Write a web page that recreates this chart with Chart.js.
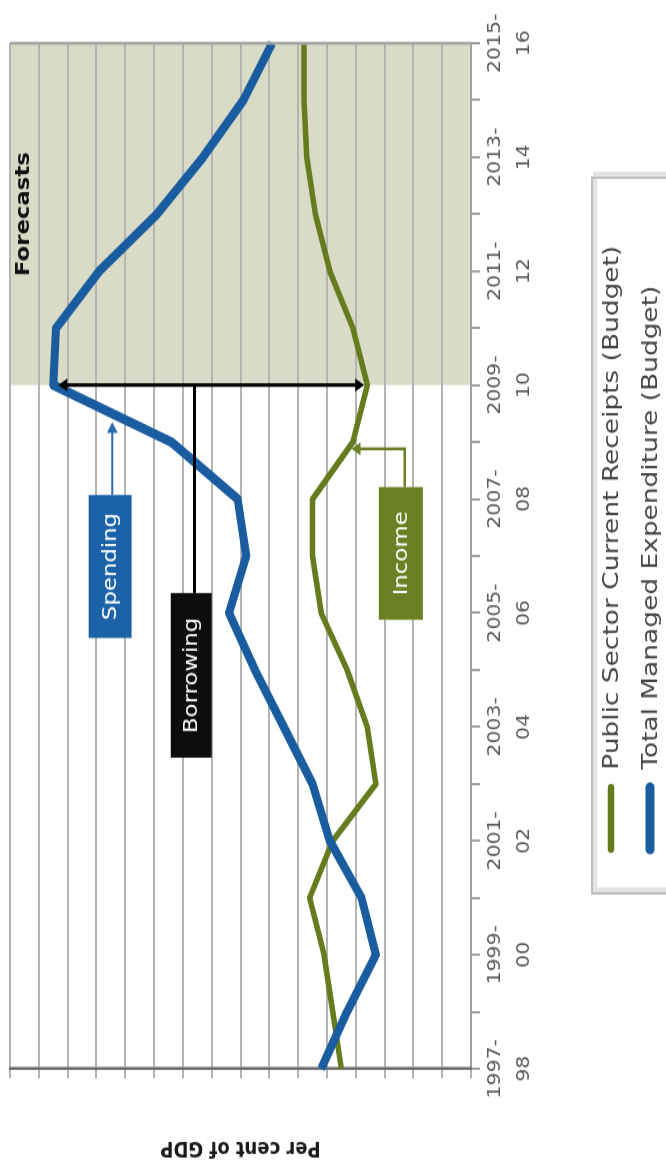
<!DOCTYPE html>
<html lang="en">
<head>
<meta charset="UTF-8">
<title>Spending, income and borrowing</title>
<script src="https://cdn.jsdelivr.net/npm/chart.js"></script>
<style>
  html, body { margin: 0; padding: 0; background: #fff; overflow: hidden; }
  body { width: 666px; height: 1172px; position: relative; }
  /* the chart is drawn upright, then turned on its side like the original */
  #wrap {
    position: absolute; left: 0; top: 0;
    width: 976px; height: 666px;
    transform-origin: 0 0;
    transform: translateY(1172px) rotate(-90deg) scaleX(1.2008);
  }
</style>
</head>
<body>
<div id="wrap"><canvas id="budgetChart"></canvas></div>

<script>
const years = ['1997-98', '1998-99', '1999-00', '2000-01', '2001-02', '2002-03', '2003-04',
               '2004-05', '2005-06', '2006-07', '2007-08', '2008-09', '2009-10', '2010-11',
               '2011-12', '2012-13', '2013-14', '2014-15', '2015-16'];
const receipts = [37.5, 37.8, 38.1, 38.6, 37.8, 36.3, 36.6, 37.3, 38.2, 38.5,
                  38.5, 37.1, 36.6, 37.1, 37.9, 38.4, 38.7, 38.8, 38.8];
const expenditure = [38.2, 37.3, 36.3, 36.8, 37.9, 38.5, 39.5, 40.5, 41.4, 40.8,
                     41.1, 43.4, 47.5, 47.4, 45.9, 43.9, 42.3, 40.9, 39.9];
const seriesNames = ['Public Sector Current Receipts (Budget)', 'Total Managed Expenditure (Budget)'];
const forecastFrom = '2009-10';
const yMin = 33, yMax = 49;

const FONT = '"DejaVu Sans", sans-serif';
const GREEN = '#667b1d';
const BLUE = '#195c9f';

function arrowHead(ctx, x, y, angle, size) {
    ctx.save();
    ctx.translate(x, y);
    ctx.rotate(angle);
    ctx.beginPath();
    ctx.moveTo(0, 0);
    ctx.lineTo(-size, -size * 0.6);
    ctx.lineTo(-size, size * 0.6);
    ctx.closePath();
    ctx.fill();
    ctx.restore();
}

function labelBox(ctx, px, py, b) {
    const l = px(b.from), r = px(b.to), t = py(b.top), btm = py(b.bottom);
    ctx.fillStyle = b.color;
    ctx.fillRect(l, t, r - l, btm - t);
    ctx.fillStyle = '#fff';
    ctx.font = '19px ' + FONT;
    ctx.textAlign = 'center';
    ctx.textBaseline = 'middle';
    ctx.fillText(b.text, (l + r) / 2, (t + btm) / 2 + 1);
}

const annotate = {
    id: 'annotate',
    beforeDraw(chart) {
        const {ctx, chartArea: a, scales: {x}} = chart;
        const x0 = x.getPixelForValue(years.indexOf(forecastFrom));
        ctx.save();
        ctx.fillStyle = '#d9dbc7';
        ctx.fillRect(x0, a.top, a.right - x0, a.bottom - a.top);
        ctx.restore();
    },
    afterDatasetsDraw(chart) {
        const {ctx, chartArea: a, scales: {x, y}} = chart;
        const px = v => x.getPixelForValue(v);
        const py = v => y.getPixelForValue(v);
        const f = years.indexOf(forecastFrom);
        ctx.save();

        // right border of the plot
        ctx.strokeStyle = '#a3a3a3';
        ctx.lineWidth = 2.5;
        ctx.beginPath();
        ctx.moveTo(a.right, a.top);
        ctx.lineTo(a.right, a.bottom);
        ctx.stroke();

        ctx.fillStyle = '#111';
        ctx.font = 'bold 19px ' + FONT;
        ctx.textAlign = 'center';
        ctx.textBaseline = 'middle';
        ctx.fillText('Forecasts', px((f + years.length - 1) / 2), py(48.5));

        // borrowing: gap between spending and income in 2009-10
        const top = py(expenditure[f]) + 5, bottom = py(receipts[f]) - 3;
        ctx.strokeStyle = '#000';
        ctx.fillStyle = '#000';
        ctx.lineWidth = 3;
        ctx.beginPath();
        ctx.moveTo(px(f), top + 6);
        ctx.lineTo(px(f), bottom - 6);
        ctx.moveTo(px(8.35), py(42.6));
        ctx.lineTo(px(f), py(42.6));
        ctx.stroke();
        arrowHead(ctx, px(f), top, -Math.PI / 2, 9);
        arrowHead(ctx, px(f), bottom, Math.PI / 2, 9);

        // spending pointer
        ctx.strokeStyle = '#2a6bb0';
        ctx.fillStyle = '#2a6bb0';
        ctx.lineWidth = 2;
        ctx.beginPath();
        ctx.moveTo(px(10.07), py(45.45));
        ctx.lineTo(px(11.25), py(45.45));
        ctx.stroke();
        arrowHead(ctx, px(11.35), py(45.45), 0, 9);

        // income pointer
        ctx.strokeStyle = '#6b8023';
        ctx.fillStyle = '#6b8023';
        ctx.lineWidth = 2.5;
        ctx.beginPath();
        ctx.moveTo(px(10.21), py(35.3));
        ctx.lineTo(px(10.88), py(35.3));
        ctx.lineTo(px(10.88), py(36.9));
        ctx.stroke();
        arrowHead(ctx, px(10.88), py(37.15), -Math.PI / 2, 9);

        labelBox(ctx, px, py, {text: 'Spending', color: '#1c62a8', from: 7.56, to: 10.07, top: 46.27, bottom: 44.78});
        labelBox(ctx, px, py, {text: 'Borrowing', color: '#0d0d0d', from: 5.46, to: 8.35, top: 43.42, bottom: 42.0});
        labelBox(ctx, px, py, {text: 'Income', color: '#6b8023', from: 7.88, to: 10.21, top: 36.2, bottom: 34.67});
        ctx.restore();
    },
    afterDraw(chart) {
        // legend box below the chart, one row per series
        const {ctx} = chart;
        ctx.save();
        ctx.strokeStyle = '#e3e3e3';
        ctx.lineWidth = 4;
        ctx.strokeRect(235, 595, 596, 120);
        ctx.strokeStyle = '#bdbdbd';
        ctx.lineWidth = 2;
        ctx.strokeRect(232, 592, 596, 120);
        chart.data.datasets.forEach((ds, i) => {
            const rowY = 611 + i * 39;
            ctx.strokeStyle = ds.borderColor;
            ctx.lineWidth = ds.borderWidth + 1;
            ctx.lineCap = 'round';
            ctx.beginPath();
            ctx.moveTo(269, rowY);
            ctx.lineTo(320, rowY);
            ctx.stroke();
            ctx.fillStyle = '#444';
            ctx.font = '22px ' + FONT;
            ctx.textAlign = 'left';
            ctx.textBaseline = 'middle';
            ctx.fillText(ds.label, 335, rowY + 1);
        });
        ctx.restore();
    }
};

new Chart(document.getElementById('budgetChart'), {
    type: 'line',
    data: {
        labels: years,
        datasets: [{
            label: seriesNames[0],
            data: receipts,
            borderColor: GREEN,
            borderWidth: 5.5,
            order: 1
        }, {
            label: seriesNames[1],
            data: expenditure,
            borderColor: BLUE,
            borderWidth: 8,
            order: 0
        }]
    },
    options: {
        responsive: true,
        maintainAspectRatio: false,
        animation: false,
        layout: { padding: { top: 10, right: 36, bottom: 0, left: 0 } },
        elements: {
            point: { radius: 0 },
            line: { tension: 0, borderJoinStyle: 'round', borderCapStyle: 'butt' }
        },
        plugins: {
            legend: { display: false },
            tooltip: { enabled: false }
        },
        scales: {
            x: {
                offset: false,
                grid: { drawOnChartArea: false, tickLength: 9, color: '#a0a0a0', lineWidth: 2 },
                border: { color: '#a0a0a0', width: 2 },
                ticks: {
                    autoSkip: false,
                    maxRotation: 0,
                    minRotation: 0,
                    padding: 1,
                    color: '#595959',
                    font: { family: FONT, size: 17, lineHeight: 1.7 },
                    callback: (v, i) => i % 2 === 0 ? [years[i].slice(0, 5), years[i].slice(5)] : ''
                },
                afterFit(scale) { scale.height = 195; }
            },
            y: {
                min: yMin,
                max: yMax,
                ticks: { stepSize: 1, display: false },
                grid: { color: '#b3b3b3', lineWidth: 2, tickLength: 8 },
                border: { color: '#6b6b6b', width: 2.5 },
                title: {
                    display: true,
                    text: 'Per cent of GDP',
                    color: '#1a1a1a',
                    font: { family: FONT, size: 18, weight: 'bold' },
                    padding: { top: 10, bottom: 0 }
                },
                afterFit(scale) { scale.width = 86; }
            }
        }
    },
    plugins: [annotate]
});
</script>
</body>
</html>
